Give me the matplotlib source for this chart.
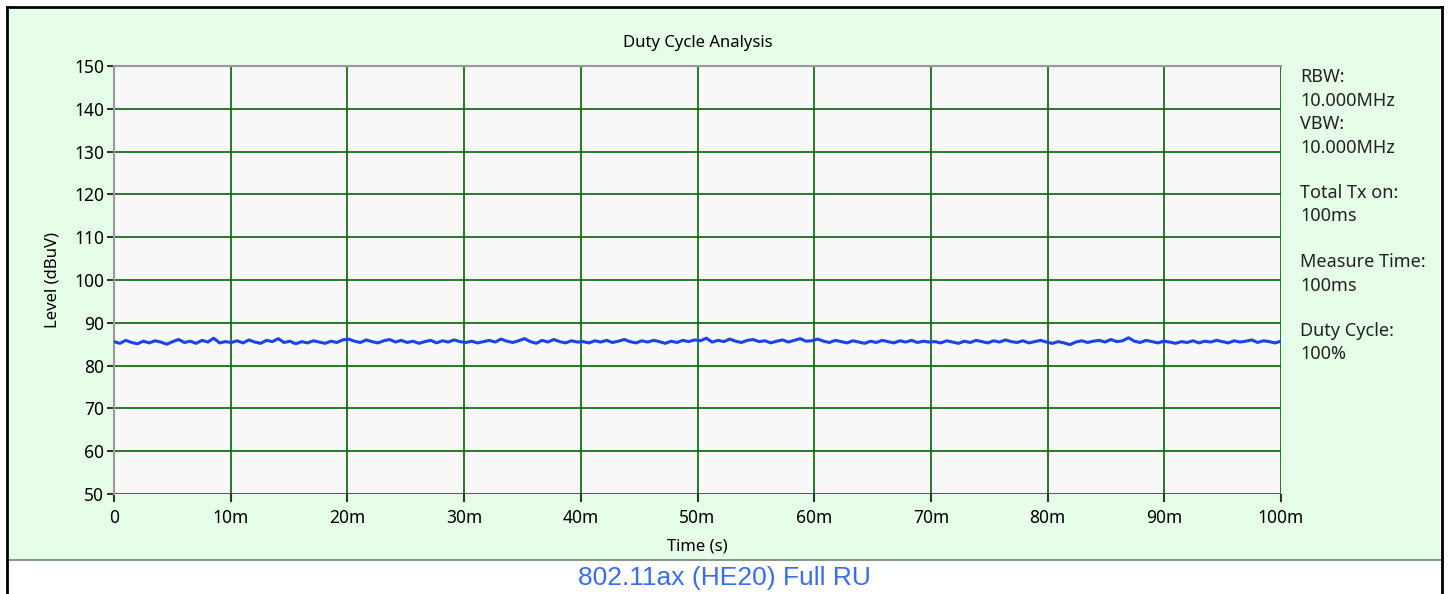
import matplotlib
matplotlib.use('Agg')
import matplotlib.pyplot as plt
from matplotlib.patches import Rectangle
from matplotlib.lines import Line2D
import numpy as np

plt.rcParams['font.family'] = ['Noto Sans', 'DejaVu Sans']

# trace, 20 samples per 10 ms
level = [
    85.6, 85.2, 85.9, 85.4, 85.1, 85.7, 85.3, 85.8, 85.5, 85.0, 85.6, 86.1, 85.4, 85.7, 85.2, 85.9, 85.5, 86.4, 85.3, 85.6,
    85.4, 85.8, 85.3, 86.0, 85.5, 85.2, 85.9, 85.6, 86.3, 85.4, 85.7, 85.1, 85.6, 85.3, 85.8, 85.5, 85.2, 85.7, 85.4, 86.0,
    86.2, 85.7, 85.4, 86.0, 85.6, 85.3, 85.8, 86.1, 85.5, 85.9, 85.4, 85.7, 85.2, 85.6, 85.9, 85.3, 85.8, 85.5, 86.0, 85.6,
    85.4, 85.7, 85.3, 85.6, 85.9, 85.5, 86.2, 85.7, 85.4, 85.8, 86.3, 85.6, 85.2, 85.9, 85.5, 86.1, 85.6, 85.3, 85.8, 85.5,
    85.6, 85.3, 85.8, 85.5, 85.9, 85.4, 85.7, 86.1, 85.6, 85.3, 85.8, 85.5, 85.9, 85.6, 85.2, 85.7, 85.4, 85.9, 85.6, 86.0,
    85.8, 86.4, 85.5, 85.9, 85.6, 86.2, 85.7, 85.4, 85.9, 86.1, 85.6, 85.8, 85.3, 85.7, 86.0, 85.5, 85.9, 86.3, 85.7, 85.8,
    86.2, 85.7, 85.4, 85.9, 85.6, 85.3, 85.8, 85.5, 85.2, 85.7, 85.4, 85.9, 85.6, 85.3, 85.8, 85.5, 85.9, 85.4, 85.7, 85.5,
    85.6, 85.3, 85.8, 85.5, 85.2, 85.7, 85.4, 85.9, 85.6, 85.3, 85.8, 85.5, 86.0, 85.6, 85.4, 85.8, 85.3, 85.6, 85.9, 85.5,
    85.2, 85.6, 85.3, 84.9, 85.5, 85.8, 85.4, 85.7, 85.9, 85.5, 86.1, 85.6, 85.8, 86.5, 85.7, 85.4, 85.9, 85.6, 85.3, 85.7,
    85.5, 85.2, 85.6, 85.4, 85.8, 85.3, 85.7, 85.5, 85.9, 85.6, 85.3, 85.8, 85.5, 85.7, 86.0, 85.4, 85.8, 85.6, 85.3, 85.7,
]
time_ms = np.linspace(0, 100, len(level))

y_ticks = [50, 60, 70, 80, 90, 100, 110, 120, 130, 140, 150]
x_ticks = [0, 10, 20, 30, 40, 50, 60, 70, 80, 90, 100]
x_labels = ['0', '10m', '20m', '30m', '40m', '50m', '60m', '70m', '80m', '90m', '100m']

info = [
    ('RBW:', 77), ('10.000MHz', 101), ('VBW:', 124), ('10.000MHz', 148),
    ('Total Tx on:', 193), ('100ms', 216),
    ('Measure Time:', 262), ('100ms', 286),
    ('Duty Cycle:', 331), ('100%', 354),
]

W, H = 1450, 594
fig = plt.figure(figsize=(W / 100, H / 100), dpi=100)
fig.patch.set_facecolor('white')

# green panel and frame
fig.patches.append(Rectangle((9 / W, 1 - 560 / H), (1440 - 9) / W, (560 - 9) / H,
                             transform=fig.transFigure, facecolor='#e6fde8', edgecolor='none', zorder=-5))
fig.lines.append(Line2D([9 / W, 1440 / W], [1 - 560 / H, 1 - 560 / H], transform=fig.transFigure,
                        color='#8a9a8a', lw=1.5))
fig.lines.append(Line2D([7 / W, 7 / W], [0, 1 - 7 / H], transform=fig.transFigure, color='black', lw=2))
fig.lines.append(Line2D([1442 / W, 1442 / W], [0, 1 - 7 / H], transform=fig.transFigure, color='black', lw=2))
fig.lines.append(Line2D([7 / W, 1442 / W], [1 - 7 / H, 1 - 7 / H], transform=fig.transFigure, color='black', lw=2))

ax = fig.add_axes([114 / W, 1 - 494 / H, (1281 - 114) / W, (494 - 66) / H])
ax.set_zorder(2)
ax.set_facecolor('#f8f8f8')
ax.plot(time_ms, level, color='#1a44e6', lw=2.2, zorder=3)

ax.set_xlim(0, 100)
ax.set_ylim(50, 150)
ax.set_yticks(y_ticks)
ax.set_xticks(x_ticks)
ax.set_xticklabels(x_labels)
ax.grid(True, color='#056405', lw=1.2)
ax.set_axisbelow(True)
for s in ['right', 'bottom']:
    ax.spines[s].set_visible(False)
for s in ['top', 'left']:
    ax.spines[s].set_color('#999999')
    ax.spines[s].set_linewidth(1.5)
ax.tick_params(axis='y', direction='out', length=5, width=1.5, color='#333333', labelsize=12.5, pad=2)
ax.tick_params(axis='x', direction='out', length=6, width=1.5, color='#333333', labelsize=12.5, pad=5)
ax.set_title('Duty Cycle Analysis', fontsize=12, pad=14)
ax.set_ylabel('Level (dBuV)', fontsize=12, labelpad=10)
ax.set_xlabel('Time (s)', fontsize=12, labelpad=8)

for txt, y in info:
    fig.text(1300 / W, 1 - y / H, txt, fontsize=13, va='center', ha='left', color='#222222')

fig.text(724 / W, 1 - 578 / H, '802.11ax (HE20) Full RU', fontsize=19, ha='center', va='center',
         color='#3a6ef0', family=['Liberation Sans', 'DejaVu Sans'])

fig.savefig('out.png', dpi=100)
